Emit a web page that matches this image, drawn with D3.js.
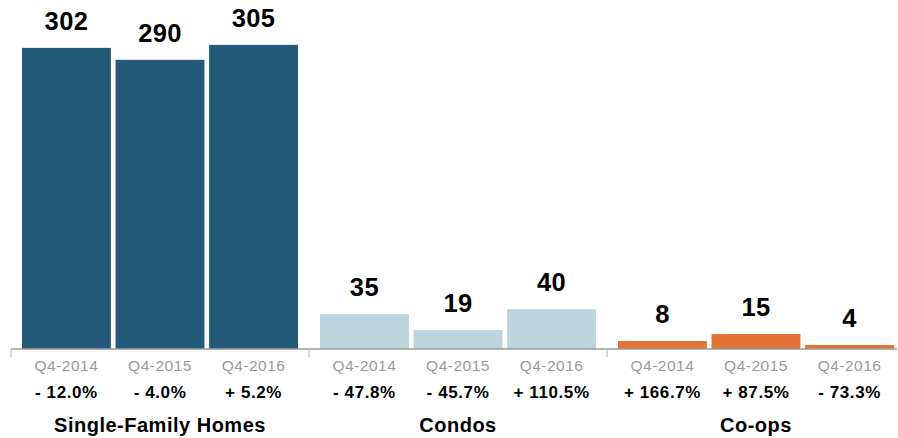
<!DOCTYPE html>
<html>
<head>
<meta charset="utf-8">
<script src="https://cdn.jsdelivr.net/npm/d3@7"></script>
<style>
  body { margin: 0; background: #fff; }
  svg { display: block; font-family: "Liberation Sans", Arial, Helvetica, sans-serif; }
</style>
</head>
<body>
<div id="corpo"></div>
<script>
// data
var groups = ["Single-Family Homes", "Condos", "Co-ops"];
var periods = ["Q4-2014", "Q4-2015", "Q4-2016"];
var sfhValues = [302, 290, 305];
var condoValues = [35, 19, 40];
var coopValues = [8, 15, 4];
var sfhChange = ["- 12.0%", "- 4.0%", "+ 5.2%"];
var condoChange = ["- 47.8%", "- 45.7%", "+ 110.5%"];
var coopChange = ["+ 166.7%", "+ 87.5%", "- 73.3%"];
var groupColors = ["#245b7b", "#bcd4dc", "#e07335"];

var values = [sfhValues, condoValues, coopValues];
var changes = [sfhChange, condoChange, coopChange];

var chartWidth = 898, chartHeight = 438;
var margin = {top: 0, right: 0, bottom: 89, left: 11};
var groupWidth = 298;

var svg = d3.select("#corpo").append("svg")
    .attr("width", chartWidth)
    .attr("height", chartHeight);

var g = svg.append("g")
    .attr("transform", "translate(" + margin.left + "," + margin.top + ")");

// scales
var x0 = d3.scaleBand().domain(groups).range([0, groupWidth * 3]).padding(0);
var x1 = d3.scaleBand().domain(periods).range([11, groupWidth - 11]).paddingInner(0.05);
var y = d3.scaleLinear().domain([0, 350]).range([chartHeight - margin.bottom, 0]);

var base = y(0);

groups.forEach(function (grp, gi) {
    var gg = g.append("g").attr("transform", "translate(" + x0(grp) + ",0)");
    var rows = periods.map(function (p, i) { return {p: p, v: values[gi][i], c: changes[gi][i]}; });

    gg.selectAll("rect").data(rows).enter().append("rect")
        .attr("x", function (d) { return x1(d.p); })
        .attr("y", function (d) { return y(d.v); })
        .attr("width", x1.bandwidth())
        .attr("height", function (d) { return base - y(d.v); })
        .style("fill", groupColors[gi]);

    // value labels
    gg.selectAll(".val").data(rows).enter().append("text")
        .attr("class", "val")
        .attr("x", function (d) { return x1(d.p) + x1.bandwidth() / 2; })
        .attr("y", function (d) { return y(d.v) - 18; })
        .attr("text-anchor", "middle")
        .style("font-size", "25.5px")
        .style("font-weight", "bold")
        .style("letter-spacing", "0.4px")
        .attr("fill", "#000")
        .text(function (d) { return d.v; });

    // period labels
    gg.selectAll(".per").data(rows).enter().append("text")
        .attr("class", "per")
        .attr("x", function (d) { return x1(d.p) + x1.bandwidth() / 2; })
        .attr("y", base + 22)
        .attr("text-anchor", "middle")
        .style("font-size", "15.5px")
        .style("letter-spacing", "0.5px")
        .attr("fill", "#9a9a9a")
        .text(function (d) { return d.p; });

    // change labels
    gg.selectAll(".chg").data(rows).enter().append("text")
        .attr("class", "chg")
        .attr("x", function (d) { return x1(d.p) + x1.bandwidth() / 2; })
        .attr("y", base + 49)
        .attr("text-anchor", "middle")
        .style("font-size", "17px")
        .style("font-weight", "bold")
        .style("letter-spacing", "0.6px")
        .attr("fill", "#000")
        .text(function (d) { return d.c; });

    // group label
    gg.append("text")
        .attr("x", groupWidth / 2)
        .attr("y", base + 83)
        .attr("text-anchor", "middle")
        .style("font-size", "20px")
        .style("font-weight", "bold")
        .style("letter-spacing", "0.5px")
        .attr("fill", "#000")
        .text(grp);
});

// axis
var axis = g.append("g")
    .attr("transform", "translate(0," + base + ")")
    .call(d3.axisBottom(x0).tickValues([]).tickSizeOuter(0));
axis.select(".domain").attr("stroke", "#9a9a9a").attr("stroke-width", 1.5)
    .attr("d", "M0,0H" + (chartWidth - margin.left - 1));

// group separators
axis.selectAll(".sep").data([0, 1, 2]).enter().append("line")
    .attr("x1", function (d) { return d * groupWidth; })
    .attr("x2", function (d) { return d * groupWidth; })
    .attr("y1", 0)
    .attr("y2", 8)
    .attr("stroke", "#c8c8c8")
    .attr("stroke-width", 1.5);
</script>
</body>
</html>
